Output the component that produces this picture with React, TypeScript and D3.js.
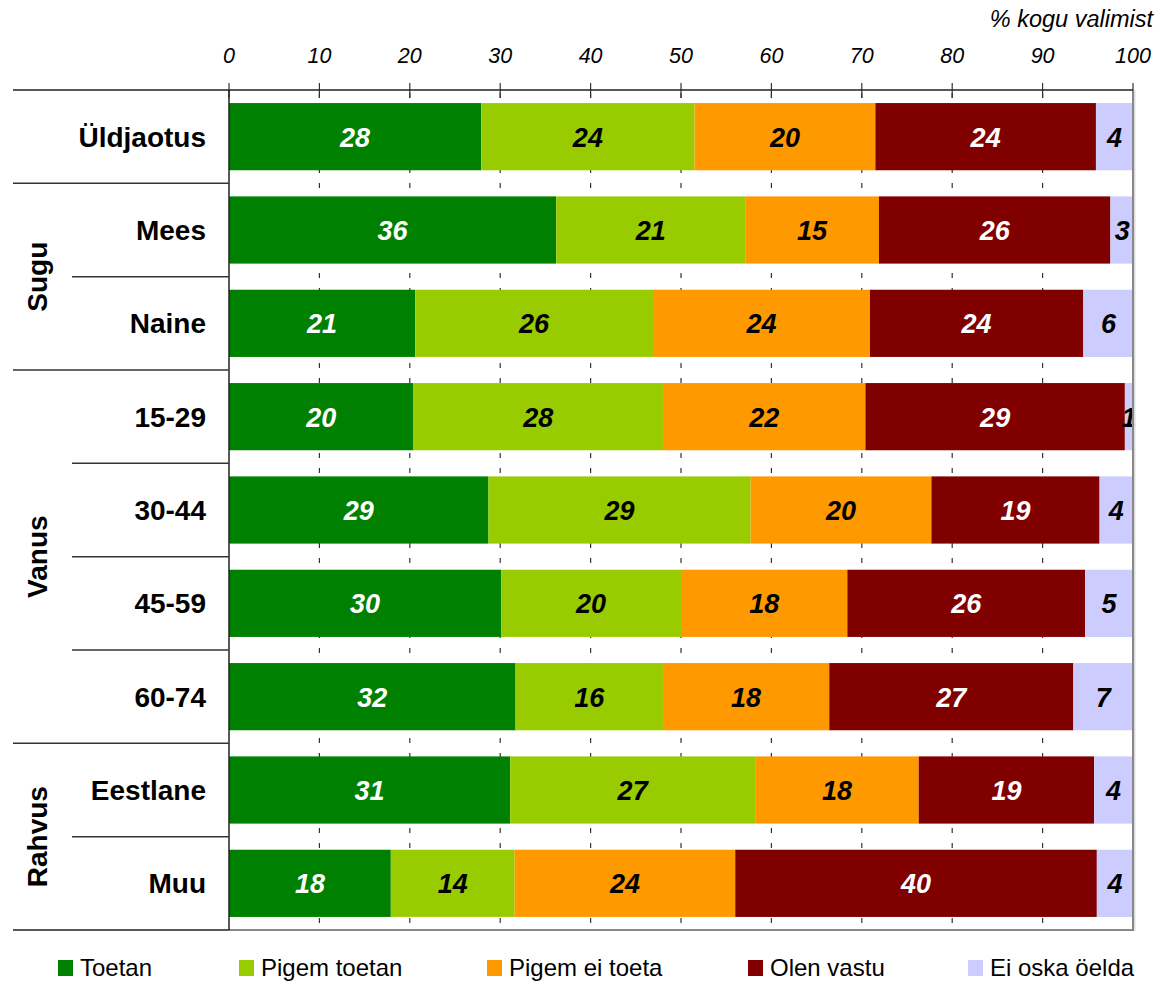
import React from "react";
import * as d3 from "d3";

const categories = ["Üldjaotus", "Mees", "Naine", "15-29", "30-44", "45-59", "60-74", "Eestlane", "Muu"];
const seriesNames = ["Toetan", "Pigem toetan", "Pigem ei toeta", "Olen vastu", "Ei oska öelda"];
const seriesColors = ["#008000", "#99CC00", "#FF9900", "#800000", "#CCCCFF"];
const labelColors = ["#ffffff", "#000000", "#000000", "#ffffff", "#000000"];

const toetan = [27.9, 36.2, 20.6, 20.4, 28.7, 30.1, 31.7, 31.1, 17.9];
const pigemToetan = [23.6, 20.9, 26.3, 27.6, 29.0, 19.9, 16.3, 27.1, 13.7];
const pigemEiToeta = [20.0, 14.8, 24.0, 22.4, 20.0, 18.4, 18.4, 18.1, 24.4];
const olenVastu = [24.4, 25.6, 23.6, 28.7, 18.6, 26.3, 27.0, 19.4, 40.0];
const eiOska = [4.1, 2.6, 5.6, 0.9, 3.7, 5.3, 6.6, 4.3, 4.0];

const groupNames = ["", "Sugu", "Vanus", "Rahvus"];
const groupSizes = [1, 2, 4, 2];

const xTicks = [0, 10, 20, 30, 40, 50, 60, 70, 80, 90, 100];
const axisTitle = "% kogu valimist";

const W = 1161;
const H = 982;
const FONT = "'Liberation Sans', Arial, sans-serif";

export default function App() {
  const x = d3.scaleLinear().domain([0, 100]).range([229, 1133]);
  const y = d3
    .scaleBand<string>()
    .domain(categories)
    .range([90, 930])
    .paddingInner(0.28)
    .paddingOuter(0.14);
  const step = y.step();
  const bw = y.bandwidth();

  const rows = categories.map((c, i) => ({
    cat: c,
    s0: toetan[i],
    s1: pigemToetan[i],
    s2: pigemEiToeta[i],
    s3: olenVastu[i],
    s4: eiOska[i],
  }));
  const keys = ["s0", "s1", "s2", "s3", "s4"];
  const stacked = d3.stack<any>().keys(keys)(rows);

  const top = 90;
  const bottom = 930;
  const rowTop = (i: number) => top + i * step;

  const groupStarts: number[] = [];
  let acc = 0;
  groupSizes.forEach((s) => {
    groupStarts.push(acc);
    acc += s;
  });

  const legendX = [58, 239, 487, 748, 968];

  return (
    <svg
      width={W}
      height={H}
      style={{ position: "absolute", left: 0, top: 0, background: "#fff" }}
      fontFamily={FONT}
    >
      <rect x={0} y={0} width={W} height={H} fill="#fff" />

      <text x={1153} y={27} textAnchor="end" fontSize={23.5} fontStyle="italic" fill="#000">
        {axisTitle}
      </text>

      {xTicks.map((t) => (
        <text key={"tl" + t} x={x(t)} y={63} textAnchor="middle" fontSize={21.5} fontStyle="italic" fill="#000">
          {t}
        </text>
      ))}

      {xTicks.slice(1, -1).map((t) => (
        <line
          key={"g" + t}
          x1={x(t)}
          x2={x(t)}
          y1={top}
          y2={bottom}
          stroke="#333"
          strokeWidth={1.2}
          strokeDasharray="5 10"
          strokeDashoffset={-3}
        />
      ))}

      {stacked.map((layer, si) =>
        layer.map((d: any, ci: number) => {
          const x0 = x(d[0]);
          const x1 = x(d[1]);
          const yy = y(categories[ci]) as number;
          const val = d[1] - d[0];
          return (
            <g key={"b" + si + "-" + ci}>
              <rect x={x0} y={yy} width={x1 - x0} height={bw} fill={seriesColors[si]} />
              <text
                x={(x0 + x1) / 2}
                y={yy + bw / 2 + 10}
                textAnchor="middle"
                fontSize={27}
                fontWeight="bold"
                fontStyle="italic"
                fill={labelColors[si]}
              >
                {Math.round(val)}
              </text>
            </g>
          );
        })
      )}

      {xTicks.map((t) => (
        <line key={"tk" + t} x1={x(t)} x2={x(t)} y1={83} y2={98} stroke="#333" strokeWidth={1.2} />
      ))}

      <line x1={1134.5} x2={1134.5} y1={top} y2={bottom + 1} stroke="#ddd" strokeWidth={2} />
      <line x1={1133} x2={1133} y1={top} y2={bottom} stroke="#888" strokeWidth={2} />
      <line x1={229} x2={1134} y1={bottom} y2={bottom} stroke="#888" strokeWidth={2} />

      <line x1={13} x2={1133} y1={top} y2={top} stroke="#222" strokeWidth={1.5} />
      <line x1={229} x2={229} y1={top} y2={bottom} stroke="#222" strokeWidth={1.5} />

      {categories.map((c, i) => {
        if (i === 0) return null;
        const isGroup = groupStarts.includes(i);
        return (
          <line
            key={"sep" + i}
            x1={isGroup ? 13 : 72}
            x2={229}
            y1={rowTop(i)}
            y2={rowTop(i)}
            stroke="#333"
            strokeWidth={1.5}
          />
        );
      })}
      <line x1={13} x2={229} y1={bottom} y2={bottom} stroke="#222" strokeWidth={1.5} />

      {categories.map((c) => (
        <text
          key={"cl" + c}
          x={206}
          y={(y(c) as number) + bw / 2 + 10}
          textAnchor="end"
          fontSize={28}
          fontWeight="bold"
          fill="#000"
        >
          {c}
        </text>
      ))}

      {groupNames.map((g, gi) => {
        if (!g) return null;
        const yc = rowTop(groupStarts[gi]) + (groupSizes[gi] * step) / 2;
        return (
          <text
            key={"gl" + g}
            transform={`translate(47,${yc}) rotate(-90)`}
            textAnchor="middle"
            fontSize={28}
            fontWeight="bold"
            fill="#000"
          >
            {g}
          </text>
        );
      })}

      {seriesNames.map((n, i) => (
        <g key={"lg" + i}>
          <rect x={legendX[i]} y={960} width={15} height={16} fill={seriesColors[i]} />
          <text x={legendX[i] + 22} y={976} fontSize={24} fill="#000">
            {n}
          </text>
        </g>
      ))}
    </svg>
  );
}
